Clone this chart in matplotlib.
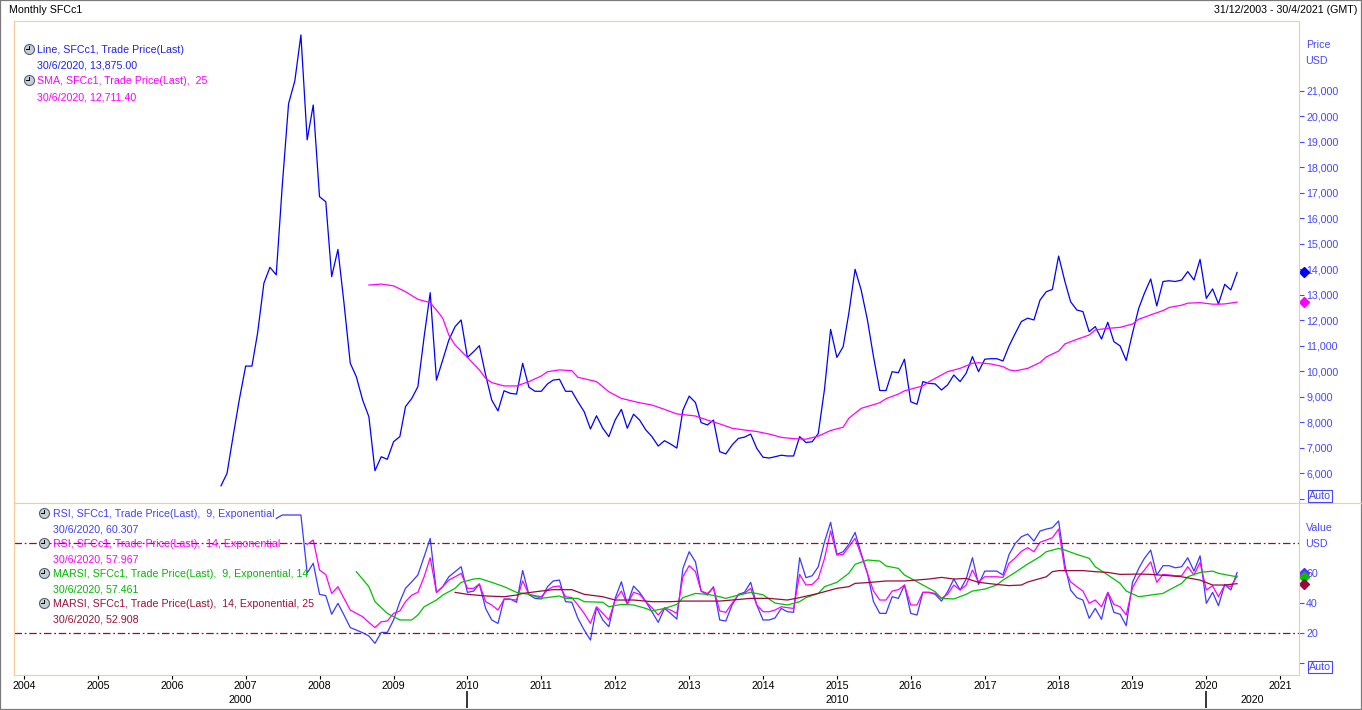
import numpy as np
import pandas as pd
import matplotlib
matplotlib.use("Agg")
import matplotlib.pyplot as plt
from matplotlib.lines import Line2D
from matplotlib.patches import Rectangle
import matplotlib.dates as mdates

W, H = 1362, 710

# ---- data (monthly, SFCc1) ----
price_start = "2006-09"
price = [
    5500, 5990, 7500, 8900,                                                    # 2006
    10200, 10200, 11500, 13450, 14080, 13780, 17300, 20500, 21400, 23200, 19080, 20450,  # 2007
    16850, 16650, 13710, 14780, 12670, 10310, 9780, 8870, 8210, 6090, 6640, 6540,        # 2008
    7230, 7430, 8610, 8930, 9390, 11350, 13080, 9650, 10440, 11220, 11750, 12010,        # 2009
    10540, 10770, 11000, 9850, 8870, 8440, 9230, 9130, 9100, 10310, 9370, 9210,          # 2010
    9210, 9500, 9650, 9680, 9210, 9210, 8800, 8410, 7730, 8250, 7760, 7430,              # 2011
    8080, 8500, 7760, 8310, 8080, 7690, 7430, 7060, 7270, 7140, 6980, 8470,              # 2012
    9020, 8770, 7980, 7890, 8080, 6840, 6750, 7100, 7360, 7410, 7530, 6970,              # 2013
    6620, 6590, 6640, 6700, 6670, 6670, 7430, 7200, 7230, 7550, 9300, 11640,             # 2014
    10540, 10960, 12270, 14000, 13190, 12010, 10570, 9240, 9240, 9980, 9940, 10470,      # 2015
    8800, 8700, 9590, 9520, 9500, 9260, 9460, 9850, 9590, 9920, 10570, 9980,             # 2016
    10470, 10490, 10490, 10400, 10990, 11490, 11950, 12080, 12010, 12790, 13120, 13210,  # 2017
    14520, 13520, 12730, 12400, 12340, 11550, 11750, 11260, 11920, 11160, 10990, 10420,  # 2018
    11490, 12470, 13060, 13620, 12560, 13520, 13550, 13520, 13580, 13910, 13580, 14390,  # 2019
    12860, 13230, 12640, 13410, 13190, 13875,                                            # 2020
]

sma_months = [
    "2008-09", "2008-11", "2009-01", "2009-03", "2009-05", "2009-07", "2009-08", "2009-09",
    "2009-10", "2009-11", "2010-01", "2010-03", "2010-04", "2010-05", "2010-07", "2010-09",
    "2010-11", "2011-01", "2011-02", "2011-04", "2011-06", "2011-07", "2011-10", "2011-11",
    "2011-12", "2012-02", "2012-05", "2012-07", "2012-09", "2012-11", "2013-02", "2013-04",
    "2013-06", "2013-08", "2013-10", "2013-12", "2014-02", "2014-04", "2014-06", "2014-08",
    "2014-10", "2014-12", "2015-02", "2015-03", "2015-05", "2015-08", "2015-09", "2015-11",
    "2015-12", "2016-03", "2016-04", "2016-06", "2016-07", "2016-09", "2016-11", "2016-12",
    "2017-02", "2017-04", "2017-05", "2017-06", "2017-08", "2017-10", "2017-11", "2018-01",
    "2018-02", "2018-04", "2018-06", "2018-07", "2018-09", "2018-11", "2019-01", "2019-02",
    "2019-04", "2019-06", "2019-07", "2019-09", "2019-10", "2019-12", "2020-02", "2020-03",
    "2020-04", "2020-06",
]
sma_values = [
    13380, 13420, 13350, 13120, 12820, 12690, 12400, 12080,
    11420, 11030, 10540, 10050, 9720, 9550, 9420, 9420,
    9590, 9810, 9980, 10050, 10020, 9760, 9590, 9390,
    9190, 8930, 8760, 8670, 8500, 8320, 8240, 8080,
    7930, 7760, 7690, 7630, 7530, 7400, 7350, 7330,
    7450, 7670, 7800, 8150, 8540, 8760, 8920, 9100,
    9230, 9420, 9590, 9850, 9980, 10110, 10310, 10330,
    10280, 10180, 10050, 10010, 10110, 10340, 10560, 10790,
    11070, 11250, 11420, 11620, 11680, 11720, 11850, 12040,
    12210, 12380, 12500, 12590, 12670, 12690, 12630, 12630,
    12640, 12711.4,
]

rsi9_start = "2007-06"
rsi9 = [
    96.4, 98.7, 98.7, 98.7, 98.7, 60.0, 66.5,
    45.8, 44.9, 32.5, 39.8, 32.0, 23.6, 22.0, 20.2, 18.0, 13.1, 20.4, 20.4,
    28.7, 40.9, 49.8, 54.2, 58.7, 70.9, 83.1, 47.1, 50.9, 57.5, 60.9, 64.2,
    47.1, 48.0, 52.7, 36.4, 28.7, 26.4, 42.7, 42.7, 40.5, 61.7, 45.5, 43.1,
    42.7, 50.9, 54.7, 55.3, 40.9, 40.5, 29.8, 22.0, 15.3, 36.9, 28.7, 24.2,
    43.1, 54.2, 39.1, 51.3, 47.1, 40.9, 34.2, 27.1, 36.4, 33.1, 29.3, 63.1,
    74.2, 67.5, 48.0, 45.3, 50.9, 28.7, 28.0, 38.7, 45.8, 47.1, 53.8, 38.7,
    28.7, 28.7, 30.0, 36.4, 34.2, 33.8, 70.2, 56.9, 58.2, 64.2, 80.9, 93.8,
    72.4, 74.2, 79.1, 87.1, 73.1, 59.8, 40.9, 33.1, 33.1, 44.2, 43.1, 52.0,
    33.1, 32.0, 47.1, 47.1, 45.8, 41.3, 47.5, 56.0, 48.7, 56.0, 70.2, 52.4,
    61.3, 61.3, 61.3, 58.7, 72.4, 79.8, 84.2, 86.0, 81.3, 88.0, 89.3, 90.2,
    94.7, 65.3, 48.7, 43.6, 42.0, 29.8, 36.4, 29.1, 47.1, 33.8, 32.5, 24.9,
    53.8, 63.1, 69.8, 75.3, 58.7, 64.9, 64.9, 63.5, 64.2, 70.2, 61.3, 71.5,
    39.8, 47.1, 38.2, 52.4, 48.7, 60.307,
]

rsi14_start = "2007-11"
rsi14 = [
    79.1, 82.0,
    62.0, 59.0, 46.4, 50.9, 43.1, 35.3, 33.1, 30.9, 27.1, 23.6, 27.5, 28.0,
    33.1, 34.7, 40.9, 45.3, 47.1, 57.5, 70.2, 47.1, 50.9, 55.3, 57.5, 59.8,
    49.8, 49.8, 52.7, 40.9, 38.7, 35.3, 42.4, 42.4, 42.0, 54.7, 45.8, 44.9,
    44.2, 48.7, 50.9, 51.3, 44.2, 43.6, 38.7, 33.1, 26.4, 37.5, 33.1, 28.7,
    42.0, 48.0, 39.1, 47.1, 45.8, 40.9, 36.9, 32.0, 36.9, 35.3, 33.1, 57.5,
    64.9, 60.9, 48.0, 46.4, 50.2, 34.7, 33.8, 39.8, 45.3, 46.4, 49.8, 38.7,
    34.2, 34.2, 35.3, 37.5, 36.9, 36.4, 59.1, 52.0, 52.4, 56.4, 69.8, 88.0,
    72.0, 72.4, 77.5, 83.1, 72.0, 59.8, 48.0, 42.0, 42.0, 48.0, 48.9, 52.0,
    38.7, 38.7, 47.1, 47.1, 46.4, 43.1, 45.8, 52.0, 48.7, 52.0, 62.0, 54.2,
    57.5, 57.5, 57.5, 57.1, 66.5, 70.2, 74.5, 76.9, 74.2, 80.5, 82.0, 83.5,
    89.3, 62.0, 54.2, 50.9, 48.0, 39.8, 42.0, 37.5, 47.1, 39.1, 37.5, 32.0,
    50.2, 57.5, 62.0, 67.5, 53.8, 59.1, 58.7, 58.2, 58.2, 64.2, 58.7, 67.1,
    48.7, 51.5, 44.2, 52.0, 50.9, 57.967,
]

marsi9_months = [
    "2008-07", "2008-09", "2008-10", "2008-12", "2009-02", "2009-04", "2009-05", "2009-06",
    "2009-08", "2009-09", "2009-11", "2009-12", "2010-02", "2010-03", "2010-05", "2010-07",
    "2010-09", "2010-11", "2011-01", "2011-04", "2011-05", "2011-07", "2011-08", "2011-11",
    "2011-12", "2012-02", "2012-04", "2012-06", "2012-07", "2012-09", "2012-11", "2012-12",
    "2013-02", "2013-04", "2013-06", "2013-07", "2013-09", "2013-11", "2014-01", "2014-02",
    "2014-03", "2014-05", "2014-07", "2014-08", "2014-10", "2014-11", "2015-01", "2015-03",
    "2015-04", "2015-06", "2015-08", "2015-09", "2015-11", "2015-12", "2016-02", "2016-03",
    "2016-05", "2016-06", "2016-08", "2016-10", "2016-11", "2017-01", "2017-03", "2017-04",
    "2017-06", "2017-08", "2017-10", "2017-11", "2018-01", "2018-02", "2018-04", "2018-06",
    "2018-07", "2018-09", "2018-11", "2018-12", "2019-02", "2019-04", "2019-06", "2019-07",
    "2019-09", "2019-10", "2019-12", "2020-02", "2020-03", "2020-06",
]
marsi9_values = [
    60.9, 50.9, 40.9, 33.1, 28.7, 28.7, 32.0, 37.5,
    42.0, 45.3, 49.8, 53.8, 56.0, 56.4, 53.8, 50.9,
    47.1, 45.8, 43.1, 44.7, 43.1, 43.1, 40.9, 40.5,
    37.5, 39.1, 38.7, 36.4, 34.7, 36.4, 39.1, 43.6,
    46.4, 45.8, 44.2, 43.1, 45.3, 47.1, 45.5, 42.5,
    40.0, 38.7, 40.9, 43.6, 46.4, 50.9, 53.8, 59.8,
    65.8, 68.7, 68.0, 64.7, 63.1, 58.7, 54.2, 52.0,
    47.5, 43.1, 42.7, 45.8, 48.0, 49.3, 52.0, 55.3,
    60.5, 66.0, 70.9, 74.2, 76.4, 75.3, 72.4, 69.8,
    64.2, 58.7, 53.1, 48.0, 44.2, 45.3, 46.4, 48.7,
    53.1, 57.5, 60.4, 61.3, 59.8, 57.461,
]

marsi14_months = [
    "2009-11", "2010-01", "2010-04", "2010-07", "2010-09", "2010-10", "2011-01", "2011-03",
    "2011-06", "2011-08", "2011-11", "2012-01", "2012-04", "2012-07", "2012-10", "2012-12",
    "2013-03", "2013-06", "2013-08", "2013-11", "2014-02", "2014-05", "2014-07", "2014-10",
    "2015-01", "2015-03", "2015-04", "2015-06", "2015-09", "2015-12", "2016-04", "2016-06",
    "2016-08", "2016-10", "2016-12", "2017-03", "2017-05", "2017-07", "2017-08", "2017-11",
    "2017-12", "2018-01", "2018-03", "2018-05", "2018-07", "2018-09", "2018-11", "2019-02",
    "2019-04", "2019-07", "2019-09", "2019-12", "2020-02", "2020-04", "2020-06",
]
marsi14_values = [
    47.1, 45.8, 44.7, 44.2, 45.3, 46.4, 48.0, 48.9,
    48.9, 45.8, 44.2, 42.0, 42.0, 40.9, 40.9, 41.3,
    41.3, 41.3, 42.0, 43.1, 43.1, 42.0, 43.6, 46.4,
    49.8, 50.9, 53.1, 53.6, 54.7, 54.7, 56.0, 57.1,
    56.0, 56.4, 53.8, 52.4, 51.6, 52.0, 54.0, 57.5,
    60.9, 61.6, 61.6, 61.6, 60.9, 60.4, 59.1, 59.3,
    59.1, 58.2, 57.5, 55.3, 52.0, 52.0, 52.908,
]

price_ticks = list(range(5000, 21001, 1000))
value_ticks = [0, 20, 40, 60]
rsi_bands = [80, 20]

# ---- colours ----
PEACH = "#fcc998"
AXBLUE = "#4646ff"
C_PRICE = "#0000ff"
C_SMA = "#ff00ff"
C_RSI9 = "#3a3aff"
C_RSI14 = "#ff00ff"
C_MA9 = "#00c000"
C_MA14 = "#990a3c"

plt.rcParams["font.family"] = ["Liberation Sans", "DejaVu Sans"]
FS = 7.7


def fx(x):
    return x / W


def fy(y):
    return 1 - y / H


def px_rect(x0, y0, x1, y1):
    return [x0 / W, 1 - y1 / H, (x1 - x0) / W, (y1 - y0) / H]


def clock(fig, x, y):
    fig.add_artist(Line2D([fx(x)], [fy(y)], marker="o", ms=7.2, mfc="#c9cdd6",
                          mec="#56606c", mew=0.8, transform=fig.transFigure))
    fig.add_artist(Line2D([fx(x), fx(x)], [fy(y), fy(y - 3)], color="black", lw=0.7,
                          transform=fig.transFigure))
    fig.add_artist(Line2D([fx(x), fx(x - 3)], [fy(y), fy(y)], color="black", lw=0.7,
                          transform=fig.transFigure))


months = pd.date_range(price_start, periods=len(price), freq="MS")
rsi9_dates = pd.date_range(rsi9_start, periods=len(rsi9), freq="MS")
rsi14_dates = pd.date_range(rsi14_start, periods=len(rsi14), freq="MS")
sma_dates = pd.to_datetime(sma_months)
ma9_dates = pd.to_datetime(marsi9_months)
ma14_dates = pd.to_datetime(marsi14_months)

fig = plt.figure(figsize=(W / 100, H / 100), dpi=100)
fig.patch.set_facecolor("white")

ax_p = fig.add_axes(px_rect(14, 21, 1299, 503))
ax_r = fig.add_axes(px_rect(14, 503, 1299, 675), sharex=ax_p)

for ax in (ax_p, ax_r):
    for sp in ax.spines.values():
        sp.set_color(PEACH)
        sp.set_linewidth(0.8)
    ax.yaxis.tick_right()
    ax.tick_params(axis="y", colors=AXBLUE, length=3.6, width=0.8, pad=1.5, labelsize=FS)

# price panel
ax_p.plot(months, price, color=C_PRICE, lw=0.9)
ax_p.plot(sma_dates, sma_values, color=C_SMA, lw=0.9)
ax_p.set_ylim(4824, 23748)
ax_p.set_yticks(price_ticks)
ax_p.set_yticklabels(["" if v == 5000 else f"{v:,}" for v in price_ticks])
ax_p.tick_params(axis="x", length=0, labelbottom=False)

# indicator panel
ax_r.plot(rsi9_dates, rsi9, color=C_RSI9, lw=0.9)
ax_r.plot(rsi14_dates, rsi14, color=C_RSI14, lw=0.9)
ax_r.plot(ma9_dates, marsi9_values, color=C_MA9, lw=0.9)
ax_r.plot(ma14_dates, marsi14_values, color=C_MA14, lw=0.9)
for b in rsi_bands:
    ax_r.axhline(b, color=C_MA14, lw=0.9, dashes=(6, 2.2, 1.4, 2.2))
ax_r.set_ylim(-8, 106.7)
ax_r.set_yticks(value_ticks)
ax_r.set_yticklabels(["" if v == 0 else str(v) for v in value_ticks])

x0, x1 = pd.Timestamp("2003-11-13"), pd.Timestamp("2021-04-03")
ax_r.set_xlim(x0, x1)
ax_r.xaxis.set_major_locator(mdates.YearLocator())
ax_r.xaxis.set_major_formatter(mdates.DateFormatter("%Y"))
ax_r.tick_params(axis="x", colors="black", length=3, width=0.8, pad=1.5, labelsize=FS)

# decade row under the years
xt = ax_r.get_xaxis_transform()
for d in (2000, 2010, 2020):
    a = max(x0, pd.Timestamp(f"{d}-01-01"))
    b = min(x1, pd.Timestamp(f"{d + 10}-01-01"))
    mid = a + (b - a) / 2
    ax_r.text(mid, -(700 - 675) / 172, str(d), transform=xt, ha="center", va="center",
              fontsize=FS, color="black")
    if pd.Timestamp(f"{d}-01-01") > x0:
        ax_r.vlines(pd.Timestamp(f"{d}-01-01"), -(708 - 675) / 172, -(691 - 675) / 172,
                    transform=xt, color="black", lw=1.1, clip_on=False)

# last-value diamonds on the value axes
yt_p = ax_p.get_yaxis_transform()
yt_r = ax_r.get_yaxis_transform()
mx = 1 + 5 / 1285
ax_p.plot([mx], [price[-1]], marker="D", ms=5, color=C_PRICE, transform=yt_p, clip_on=False)
ax_p.plot([mx], [sma_values[-1]], marker="D", ms=5, color=C_SMA, transform=yt_p, clip_on=False)
ax_r.plot([mx], [rsi9[-1]], marker="D", ms=5, color=C_RSI9, transform=yt_r, clip_on=False)
ax_r.plot([mx], [rsi14[-1]], marker="D", ms=5, color=C_RSI14, transform=yt_r, clip_on=False)
ax_r.plot([mx], [marsi9_values[-1]], marker="D", ms=5, color=C_MA9, transform=yt_r, clip_on=False)
ax_r.plot([mx], [marsi14_values[-1]], marker="D", ms=5, color=C_MA14, transform=yt_r, clip_on=False)

# header, axis captions
fig.text(fx(9), fy(10), "Monthly SFCc1", fontsize=FS, va="center", color="black")
fig.text(fx(1357), fy(10), "31/12/2003 - 30/4/2021 (GMT)", fontsize=FS, va="center",
         ha="right", color="black")
fig.text(fx(1306), fy(45), "Price", fontsize=FS, va="center", color=AXBLUE)
fig.text(fx(1305), fy(61), "USD", fontsize=FS, va="center", color=AXBLUE)
fig.text(fx(1306), fy(528), "Value", fontsize=FS, va="center", color=AXBLUE)
fig.text(fx(1305), fy(544), "USD", fontsize=FS, va="center", color=AXBLUE)
for yy in (496, 667):
    fig.text(fx(1309), fy(yy), "Auto", fontsize=FS, va="center", color=AXBLUE,
             bbox=dict(boxstyle="square,pad=0.12", fc="white", ec=AXBLUE, lw=0.8))

# legends
price_legend = [
    ("Line, SFCc1, Trade Price(Last)", "30/6/2020, 13,875.00", "#2020f0"),
    ("SMA, SFCc1, Trade Price(Last),  25", "30/6/2020, 12,711.40", "#ff00ff"),
]
ind_legend = [
    ("RSI, SFCc1, Trade Price(Last),  9, Exponential", "30/6/2020, 60.307", "#4040ff"),
    ("RSI, SFCc1, Trade Price(Last),  14, Exponential", "30/6/2020, 57.967", "#ff00ff"),
    ("MARSI, SFCc1, Trade Price(Last),  9, Exponential, 14", "30/6/2020, 57.461", "#00b800"),
    ("MARSI, SFCc1, Trade Price(Last),  14, Exponential, 25", "30/6/2020, 52.908", "#99113a"),
]
for i, (name, last, col) in enumerate(price_legend):
    y = 50 + i * 31
    clock(fig, 29, y - 1)
    fig.text(fx(37), fy(y), name, fontsize=FS, va="center", color=col)
    fig.text(fx(37), fy(y + 16), last, fontsize=FS, va="center", color=col)
for i, (name, last, col) in enumerate(ind_legend):
    y = 514 + i * 30
    clock(fig, 44, y - 1)
    fig.text(fx(53), fy(y), name, fontsize=FS, va="center", color=col)
    fig.text(fx(53), fy(y + 15), last, fontsize=FS, va="center", color=col)

# panel divider continues across the value axis, outer border
fig.add_artist(Line2D([fx(1299), 1], [fy(503), fy(503)], color=PEACH, lw=0.8,
                      transform=fig.transFigure))
fig.add_artist(Rectangle((0, 0), 1, 1, transform=fig.transFigure, fill=False,
                         ec="#7a7a7a", lw=1.6))

fig.savefig("out.png", dpi=100, facecolor="white")
